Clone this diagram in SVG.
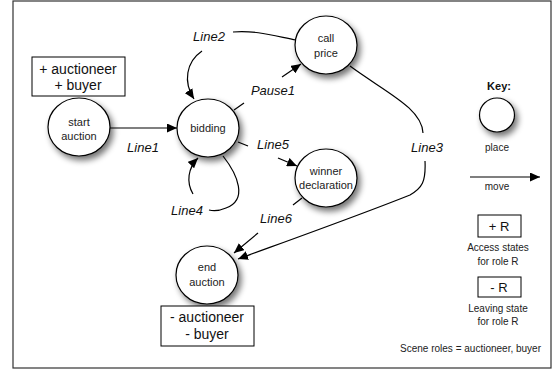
<svg xmlns="http://www.w3.org/2000/svg" width="556" height="374" viewBox="0 0 556 374">
<defs>
<filter id="sh" x="-40%" y="-40%" width="180%" height="180%">
<feGaussianBlur in="SourceAlpha" stdDeviation="3"/>
<feOffset dx="3" dy="4" result="b"/>
<feComponentTransfer><feFuncA type="linear" slope="0.55"/></feComponentTransfer>
<feMerge><feMergeNode/><feMergeNode in="SourceGraphic"/></feMerge>
</filter>
<marker id="ah" markerUnits="userSpaceOnUse" markerWidth="11" markerHeight="9" refX="10" refY="4.5" orient="auto">
<path d="M0,0 L10,4.5 L0,9 z" fill="#000"/>
</marker>
<style>
.place{fill:#fff;stroke:#000;stroke-width:1.2;filter:url(#sh)}
.nl{font-family:"Liberation Sans",Arial,sans-serif;font-size:11px;text-anchor:middle;fill:#222}
.ll{font-family:"Liberation Sans",Arial,sans-serif;font-size:13px;font-style:italic;text-anchor:middle;fill:#111}
.bt{font-family:"Liberation Sans",Arial,sans-serif;font-size:14px;text-anchor:middle;fill:#111}
.kt{font-family:"Liberation Sans",Arial,sans-serif;font-size:10px;text-anchor:middle;fill:#222}
.box{fill:#fff;stroke:#000;stroke-width:1}
.c{fill:none;stroke:#000;stroke-width:1.2}
.ca{fill:none;stroke:#000;stroke-width:1.2;marker-end:url(#ah)}
</style>
</defs>
<rect x="13" y="1" width="538" height="367" fill="#fff" stroke="#333" stroke-width="1.2"/>

<g id="connectors">
<path class="ca" d="M110,128 L177,128"/>
<path class="c" d="M233,32 C255,30 275,36 296,40"/>
<path class="ca" d="M202,51 C186,62 183,82 194,99"/>
<path class="c" d="M234,110 L244,103"/>
<path class="ca" d="M282,77 L301,64"/>
<path class="c" d="M238,142 L248,146"/>
<path class="ca" d="M278,158 L297,166"/>
<path class="c" d="M223,156 C238,175 248,200 226,208 C219,211 213,211 209,210"/>
<path class="ca" d="M193,194 C186,182 188,168 198,158"/>
<path class="c" d="M302,198 L293,205"/>
<path class="ca" d="M258,233 L234,253"/>
<path class="c" d="M350,66 C385,92 422,108 423,133"/>
<path class="ca" d="M425,161 C426,182 422,188 410,195 C360,215 290,240 238,259"/>
<path class="ca" d="M470,177 L540,177"/>
</g>

<g id="labels">
<text class="ll" x="143" y="152">Line1</text>
<text class="ll" x="209" y="41">Line2</text>
<text class="ll" x="273" y="95">Pause1</text>
<text class="ll" x="273" y="149">Line5</text>
<text class="ll" x="187" y="215">Line4</text>
<text class="ll" x="276" y="223">Line6</text>
<text class="ll" x="427" y="152">Line3</text>
</g>

<g id="start-roles">
<rect class="box" x="32" y="57" width="93" height="39"/>
<text class="bt" x="78" y="74">+ auctioneer</text>
<text class="bt" x="78" y="90">+ buyer</text>
</g>
<g id="start-auction">
<ellipse class="place" cx="79" cy="127" rx="31" ry="29"/>
<text class="nl" x="79" y="126">start</text>
<text class="nl" x="79" y="140">auction</text>
</g>
<g id="bidding">
<ellipse class="place" cx="208" cy="128" rx="31" ry="29"/>
<text class="nl" x="208" y="132">bidding</text>
</g>
<g id="call-price">
<ellipse class="place" cx="326" cy="45" rx="31" ry="29"/>
<text class="nl" x="326" y="42">call</text>
<text class="nl" x="326" y="57">price</text>
</g>
<g id="winner-declaration">
<ellipse class="place" cx="326" cy="178" rx="31" ry="29"/>
<text class="nl" x="326" y="175">winner</text>
<text class="nl" x="326" y="189">declaration</text>
</g>
<g id="end-auction">
<ellipse class="place" cx="207" cy="275" rx="31" ry="29"/>
<text class="nl" x="207" y="271">end</text>
<text class="nl" x="207" y="286">auction</text>
</g>
<g id="end-roles">
<rect class="box" x="161" y="306" width="93" height="40"/>
<text class="bt" x="207" y="322">- auctioneer</text>
<text class="bt" x="207" y="339">- buyer</text>
</g>

<g id="key">
<text x="499" y="90" font-family="Liberation Sans, Arial, sans-serif" font-size="11" font-weight="bold" text-anchor="middle" fill="#111">Key:</text>
<ellipse class="place" cx="497" cy="115" rx="17.5" ry="17"/>
<text class="kt" x="497" y="151">place</text>
<text class="kt" x="497" y="190">move</text>
<rect class="box" x="478" y="215" width="43" height="22"/>
<text x="499" y="231" font-family="Liberation Sans, Arial, sans-serif" font-size="13" text-anchor="middle" fill="#111">+ R</text>
<text class="kt" x="498" y="251">Access states</text>
<text class="kt" x="498" y="265">for role R</text>
<rect class="box" x="478" y="277" width="43" height="20"/>
<text x="499" y="292" font-family="Liberation Sans, Arial, sans-serif" font-size="13" text-anchor="middle" fill="#111">- R</text>
<text class="kt" x="498" y="312">Leaving state</text>
<text class="kt" x="498" y="325">for role R</text>
<text class="kt" x="541" y="352" style="text-anchor:end">Scene roles = auctioneer, buyer</text>
</g>
</svg>
